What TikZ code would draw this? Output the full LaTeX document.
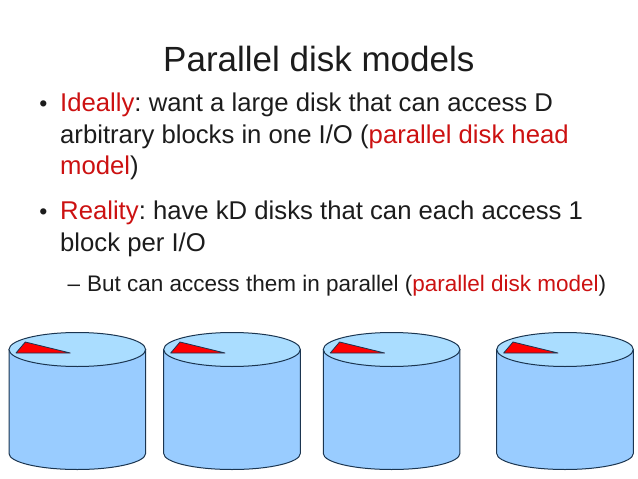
\documentclass[tikz,border=0pt]{standalone}
\usepackage{fontspec}
\setmainfont{Liberation Sans}
\usetikzlibrary{calc}
\definecolor{hlred}{HTML}{CC1111}
\definecolor{txtgray}{HTML}{1C1C1C}
\definecolor{diskside}{HTML}{99CCFF}
\definecolor{disktop}{HTML}{AADDFF}
\definecolor{diskline}{HTML}{1B3550}
\newcommand{\hl}[1]{\textcolor{hlred}{#1}}
\frenchspacing
\begin{document}
\begin{tikzpicture}[
        x=1pt, y=-1pt,
        title/.style={anchor=base west, inner sep=0, text=txtgray, font=\fontsize{35}{40}\selectfont},
        body/.style={anchor=base west, inner sep=0, text=txtgray, font=\fontsize{25.7}{30}\selectfont},
        sub/.style={anchor=base west, inner sep=0, text=txtgray, font=\fontsize{22.5}{26}\selectfont},
        dot/.style={anchor=center, inner sep=0, text=txtgray, font=\fontsize{23}{27}\selectfont},
        side/.style={fill=diskside, draw=diskline, line width=1pt},
        top/.style={fill=disktop, draw=diskline, line width=1pt},
        head/.style={fill=red, draw=diskline, line width=.8pt, line join=round},
        ]
	\useasboundingbox (0, 0) rectangle (638, 479);

	\node (T) at (163, 71) [title] {Parallel disk models};

	\node (B1) at (43.3, 105.7) [dot] {•};
	\node (L1) at (60, 111) [body] {\hl{Ideally}: want a large disk that can access D};
	\node (L2) at (60, 143.5) [body] {arbitrary blocks in one I/O (\hl{parallel disk head}};
	\node (L3) at (60, 174.5) [body] {\hl{model})};
	\node (B2) at (43.3, 213.7) [dot] {•};
	\node (L4) at (60, 219) [body] {\hl{Reality}: have kD disks that can each access 1};
	\node (L5) at (60, 251) [body] {block per I/O};
	\node (B3) at (67.5, 291) [sub] {–};
	\node (L6) at (87, 291) [sub] {But can access them in parallel (\hl{parallel disk model})};

	\coordinate (D1) at (9, 349.5);
	\coordinate (D2) at (163.7, 349.5);
	\coordinate (D3) at (323.3, 349.5);
	\coordinate (D4) at (496.7, 349.5);

	\draw [side] (D1) -- ++(0, 104) arc [start angle=180, end angle=360, x radius=68.3pt, y radius=16pt] -- ++(0, -104) -- cycle;
	\draw [top] ($(D1) + (68.3, 0)$) ellipse [x radius=68.3pt, y radius=17pt];
	\draw [head] ($(D1) + (7, 3.5)$) -- ++(9.3, -11) -- ++(45, 11) -- cycle;

	\draw [side] (D2) -- ++(0, 104) arc [start angle=180, end angle=360, x radius=68.3pt, y radius=16pt] -- ++(0, -104) -- cycle;
	\draw [top] ($(D2) + (68.3, 0)$) ellipse [x radius=68.3pt, y radius=17pt];
	\draw [head] ($(D2) + (7, 3.5)$) -- ++(9.3, -11) -- ++(45, 11) -- cycle;

	\draw [side] (D3) -- ++(0, 104) arc [start angle=180, end angle=360, x radius=68.3pt, y radius=16pt] -- ++(0, -104) -- cycle;
	\draw [top] ($(D3) + (68.3, 0)$) ellipse [x radius=68.3pt, y radius=17pt];
	\draw [head] ($(D3) + (7, 3.5)$) -- ++(9.3, -11) -- ++(45, 11) -- cycle;

	\draw [side] (D4) -- ++(0, 104) arc [start angle=180, end angle=360, x radius=68.3pt, y radius=16pt] -- ++(0, -104) -- cycle;
	\draw [top] ($(D4) + (68.3, 0)$) ellipse [x radius=68.3pt, y radius=17pt];
	\draw [head] ($(D4) + (7, 3.5)$) -- ++(9.3, -11) -- ++(45, 11) -- cycle;
\end{tikzpicture}
\end{document}
